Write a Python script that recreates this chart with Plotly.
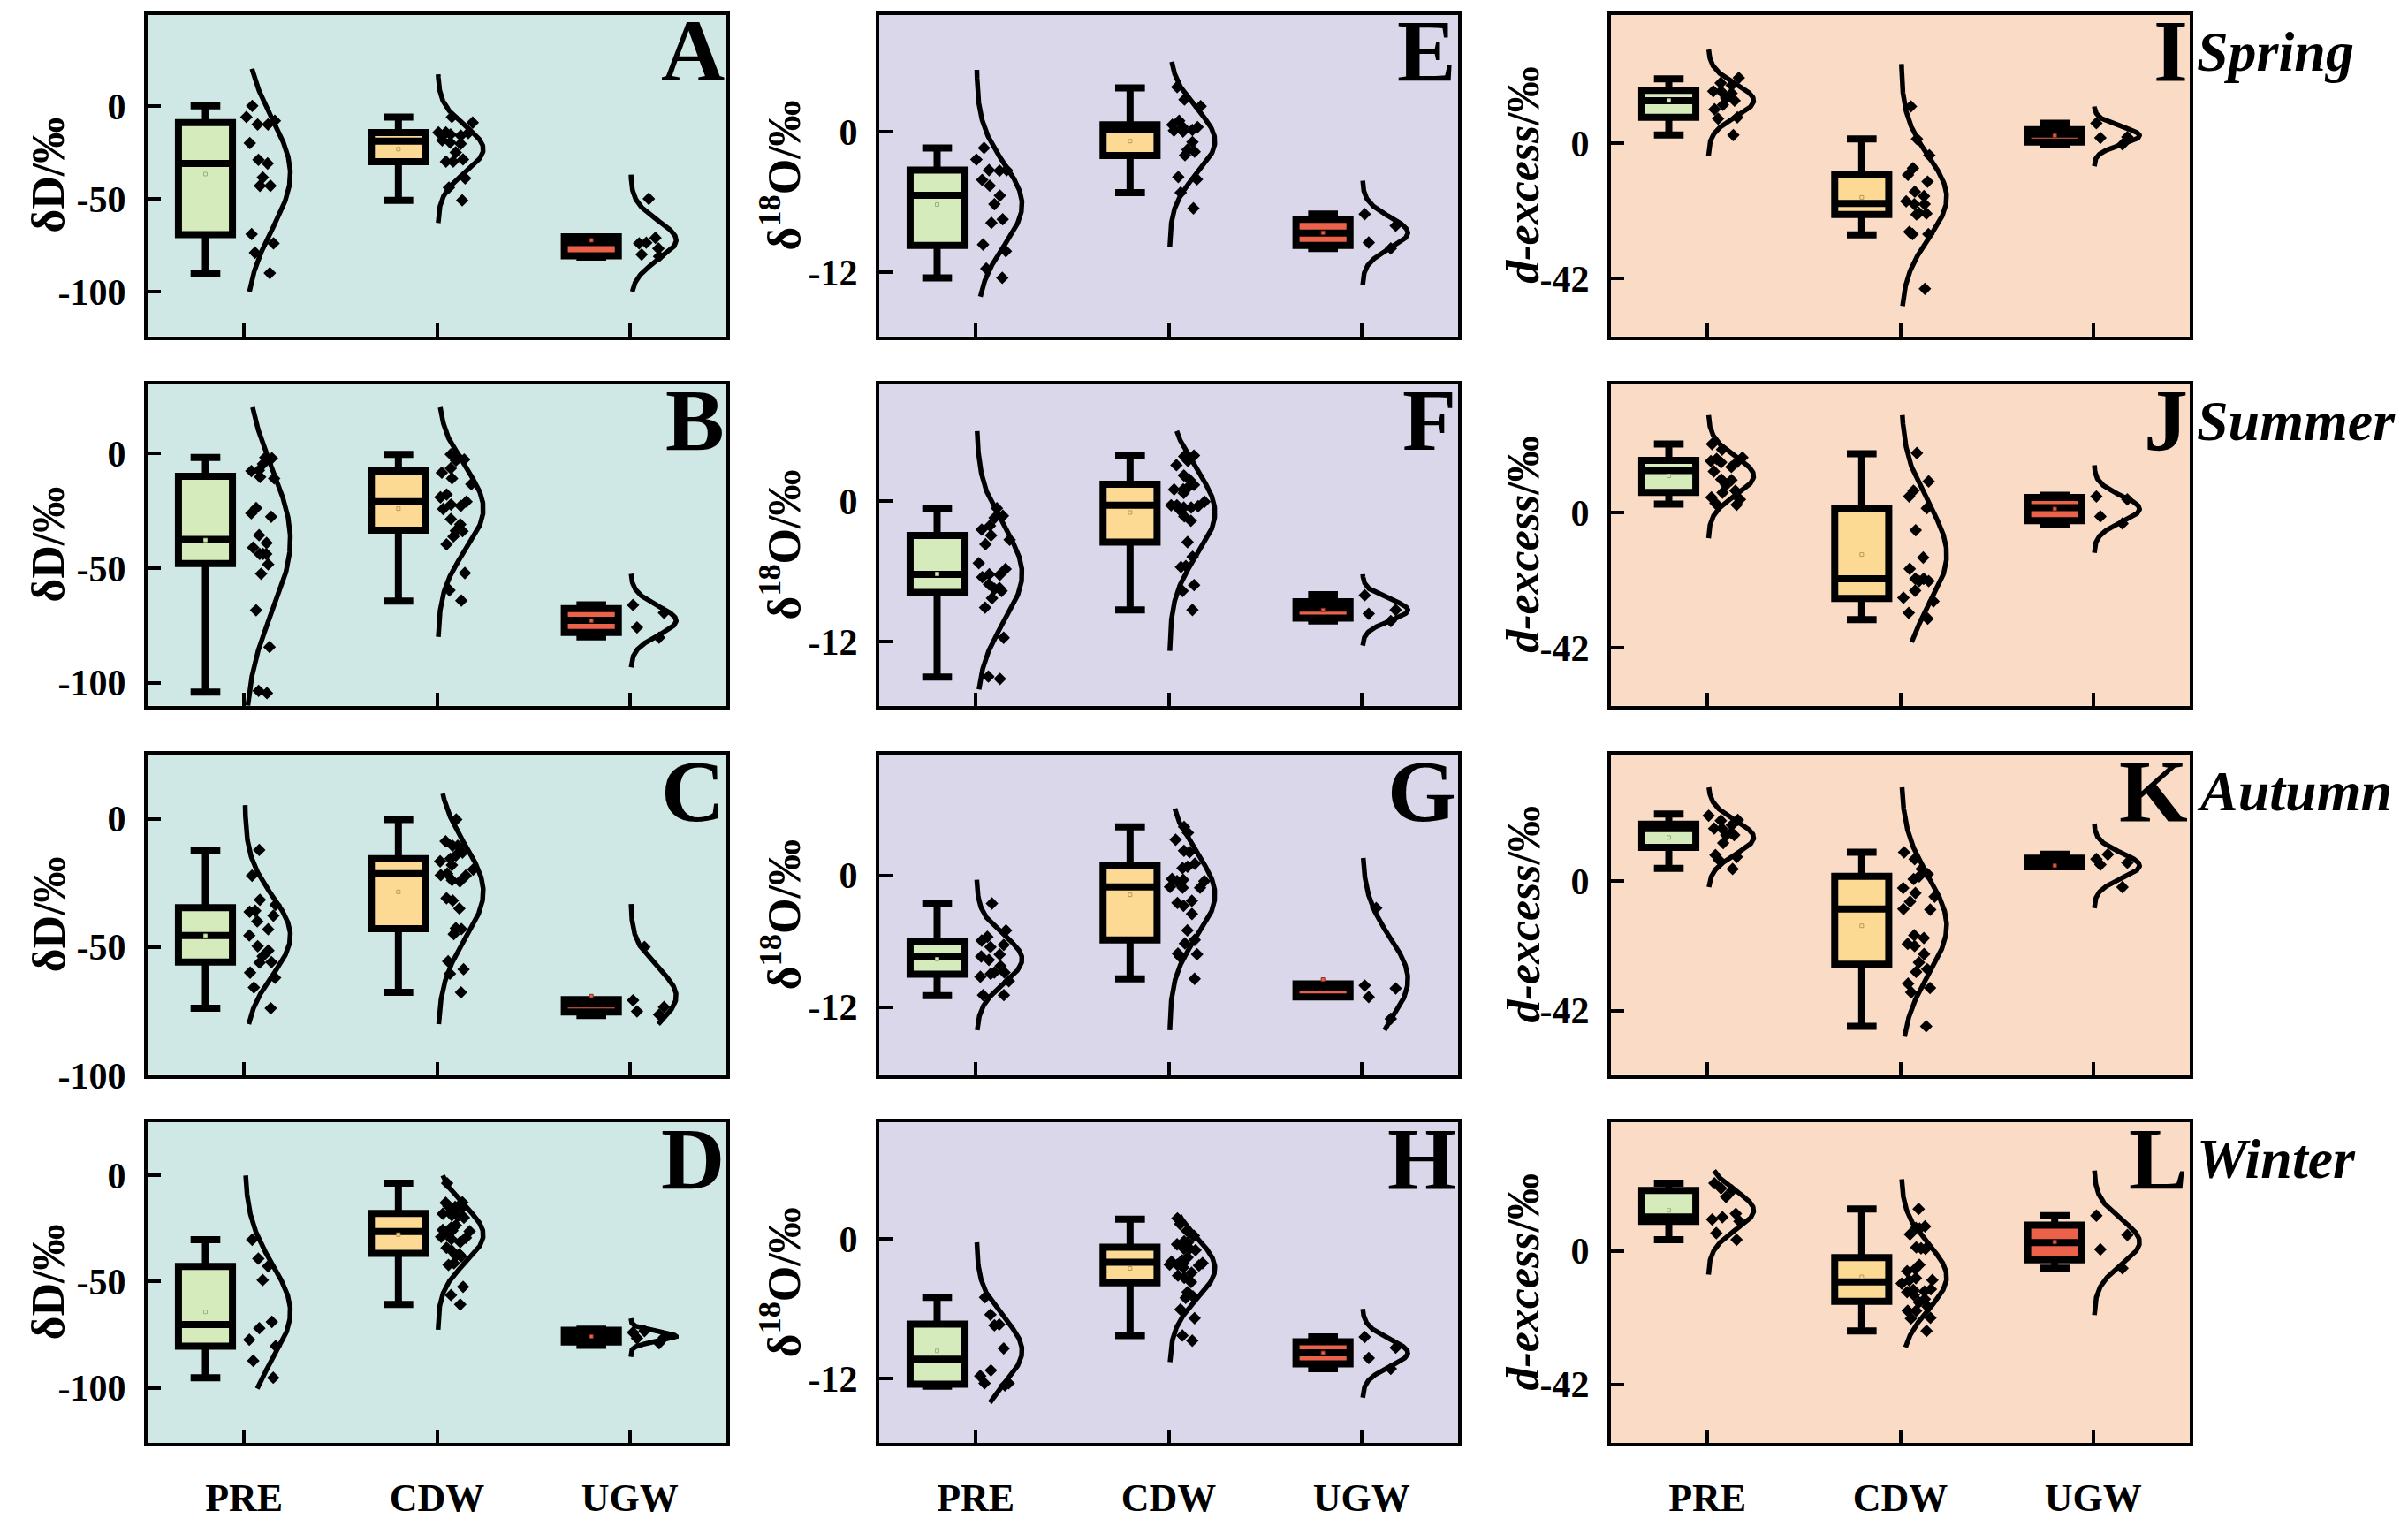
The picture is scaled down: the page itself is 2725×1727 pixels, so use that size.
import numpy as np
import plotly.graph_objects as go

categories = ["PRE", "CDW", "UGW"]
panels = ["A", "B", "C", "D", "E", "F", "G", "H", "I", "J", "K", "L"]
seasons = ["Spring", "Summer", "Autumn", "Winter"]

# ---------------- Panel A (δD, Spring)
A_PRE = [0, -6, -8, -10, -10, -20, -29, -31, -38.5, -43, -43, -69, -74, -79, -90]
A_CDW = [-6, -9, -14.3, -14.3, -14.6, -15.4, -16, -18.5, -19.7, -20.4, -25, -28.8, -30, -30, -39, -44, -50.8]
A_UGW = [-50, -71, -73.6, -74, -76.7, -80, -81]
A_q1 = [-69.3, -30.0, -80.7]
A_med = [-31.0, -19.0, -73.5]
A_q3 = [-9.0, -14.3, -70.4]
A_lo = [-90.0, -50.8, -81.4]
A_hi = [0.0, -6.0, -70.4]
A_curve_lo = [-100, -63, -100]
A_curve_hi = [20, 17, -37]

# ---------------- Panel B (δD, Summer)
B_PRE = [-1.9, -2.2, -4.7, -7.5, -7.8, -10.4, -11, -23.9, -26.2, -27.7, -35.7, -39.1, -41.1, -43.9, -43.9,
         -43.9, -48.4, -52.5, -68.4, -84.4, -103.5, -104.5]
B_CDW = [-0.5, -1.9, -2.8, -3.2, -6.6, -8.5, -11, -13.5, -18, -19.2, -21.1, -22.4, -23, -24.3, -28.7, -31,
         -33.8, -34, -36.3, -39.7, -52.2, -59.7, -64.2]
B_UGW = [-66.1, -69.5, -75.9, -80.3]
B_q1 = [-48.1, -33.5, -78.1]
B_med = [-37.6, -21.1, -72.8]
B_q3 = [-10.1, -7.8, -67.7]
B_lo = [-104.0, -64.4, -80.0]
B_hi = [-1.9, -0.5, -66.0]
B_curve_lo = [-110, -80, -93.3]
B_curve_hi = [20, 20, -52.5]

# ---------------- Panel C (δD, Autumn)
C_PRE = [-12.2, -22.2, -31.6, -33.6, -35.9, -36.3, -37.8, -40, -43.1, -45.5, -49.7, -51.4, -53.6, -55.9,
         -56.1, -60, -62, -65.8, -73.9]
C_CDW = [-0.3, -8.8, -10.5, -10.5, -13.2, -14.3, -15.6, -16.6, -18.1, -19.8, -21.4, -22, -22.2, -24, -24.5,
         -31, -31.9, -35, -42.7, -43, -45, -55.6, -58.7, -60.4, -67.7]
C_UGW = [-50, -70.8, -73.4, -75.1, -76.4]
C_q1 = [-55.9, -42.9, -75.3]
C_med = [-45.5, -21.4, -72.2]
C_q3 = [-34.7, -15.6, -70.5]
C_lo = [-73.9, -67.7, -76.7]
C_hi = [-12.4, -0.3, -70.5]
C_curve_lo = [-80.1, -80.1, -80.1]
C_curve_hi = [5.3, 9.8, -33.3]

# ---------------- Panel D (δD, Winter)
D_PRE = [-30.3, -39.2, -42.8, -49.3, -69, -72, -77.4, -80.4, -87.3, -95.3]
D_CDW = [-3.7, -12.7, -12.9, -14.5, -14.9, -15.2, -17.2, -18.1, -18.1, -18.8, -19.2, -19.9, -23.5, -24.6,
         -25.7, -26, -26.3, -26.4, -29, -29.4, -30, -31.4, -34.1, -35.5, -37.2, -37.9, -38.2, -41.4, -42.2,
         -52.5, -56.4, -60.8]
D_UGW = [-73.3, -74, -76.3, -76.7, -79]
D_q1 = [-80.4, -36.8, -78.5]
D_med = [-70.2, -26.4, -75.6]
D_q3 = [-42.9, -17.9, -73.0]
D_lo = [-95.3, -60.8, -80.0]
D_hi = [-30.3, -3.7, -72.4]
D_curve_lo = [-100.4, -72.7, -85.5]
D_curve_hi = [0, 0, -67.3]

# ---------------- Panel E (δ18O, Spring)
E_PRE = [-1.39, -2.38, -3.28, -3.28, -3.33, -4.12, -4.62, -5.46, -6.2, -7.49, -7.79, -9.65, -10.22, -11.71, -12.5]
E_CDW = [3.82, 2.75, 2.18, 0.94, 0.6, 0.4, 0.4, 0.15, 0.1, 0.02, -0.89, -1.54, -1.71, -2.01, -3.87, -4.07,
         -5.21, -6.55]
E_UGW = [-7.05, -8.04, -9.48, -9.98]
E_q1 = [-9.73, -2.03, -9.73]
E_med = [-5.43, 0.15, -8.66]
E_q3 = [-3.28, 0.6, -7.49]
E_lo = [-12.5, -5.21, -9.98]
E_hi = [-1.39, 3.75, -7.05]
E_curve_lo = [-14.1, -9.83, -13.1]
E_curve_hi = [5.3, 5.98, -4.19]

# ---------------- Panel F (δ18O, Summer)
F_PRE = [-0.6, -1.25, -1.43, -2.1, -2.43, -2.93, -3.3, -3.68, -5.3, -5.8, -6.25, -6.3, -6.5, -7.1, -7.43,
         -7.5, -7.68, -8.3, -9.1, -11.68, -15.0, -15.2]
F_CDW = [3.9, 3.83, 3.45, 3.08, 2.2, 1.83, 1.4, 1.15, 1.0, 1.0, 0.7, -0.05, -0.35, -0.35, -0.43, -0.55, -0.55,
         -0.73, -1.3, -1.68, -3.5, -4.75, -5.55, -5.63, -7.18, -7.68, -9.3]
F_UGW = [-8.05, -9.3, -9.63, -10.25]
F_q1 = [-7.8, -3.5, -10.0]
F_med = [-6.25, -0.35, -9.15]
F_q3 = [-2.93, 1.45, -8.6]
F_lo = [-15.05, -9.3, -10.25]
F_hi = [-0.6, 3.9, -8.0]
F_curve_lo = [-16.1, -12.8, -12.35]
F_curve_hi = [6.0, 6.0, -6.25]

# ---------------- Panel G (δ18O, Autumn)
G_PRE = [-2.56, -5.01, -5.59, -5.94, -6.33, -6.52, -7.2, -7.39, -7.7, -8.26, -8.84, -8.84, -8.97, -9.23,
         -9.63, -10.9, -10.9]
G_CDW = [4.41, 3.88, 3.25, 2.24, 2.11, 1.06, 0.79, 0.66, -0.32, -0.4, -0.53, -0.53, -1.06, -1.13, -1.13,
         -2.32, -2.51, -2.77, -3.51, -5.01, -5.88, -6.2, -7.12, -7.18, -7.39, -9.42]
G_UGW = [-2.98, -10.03, -10.29, -11.08, -13.06]
G_q1 = [-9.0, -5.88, -11.08]
G_med = [-7.39, -1.06, -10.2]
G_q3 = [-6.07, 0.87, -9.89]
G_lo = [-10.95, -9.42, -11.08]
G_hi = [-2.56, 4.41, -9.89]
G_curve_lo = [-14.1, -14.1, -14.1]
G_curve_hi = [-0.4, 6.07, 1.58]

# ---------------- Panel H (δ18O, Winter)
H_PRE = [-5.01, -6.5, -7.34, -7.42, -9.4, -11.27, -11.76, -12.38, -12.38, -12.56]
H_CDW = [1.76, 1.27, 0.69, 0.27, -0.22, -0.3, -0.47, -0.84, -0.84, -0.97, -1.59, -1.84, -1.96, -2.08, -2.08,
         -2.21, -2.21, -2.28, -2.46, -2.9, -3.15, -3.33, -3.7, -4.57, -4.94, -5.06, -6.05, -6.8, -8.29, -8.73]
H_UGW = [-8.41, -9.33, -10.22, -11.14]
H_q1 = [-12.46, -3.77, -10.72]
H_med = [-10.32, -2.01, -9.78]
H_q3 = [-7.3, -0.72, -8.83]
H_lo = [-12.63, -8.29, -11.14]
H_hi = [-5.01, 1.69, -8.41]
H_curve_lo = [-14.04, -10.57, -13.62]
H_curve_hi = [-0.3, 2.01, -6.0]

# ---------------- Panel I (d-excess, Spring)
I_PRE = [20.4, 18.8, 18.1, 16.2, 16.2, 15.6, 14.1, 13.3, 12.0, 10.6, 8.1, 7.7, 2.6]
I_CDW = [11.5, 1.36, -3.7, -7.7, -9.8, -11.9, -15, -16.4, -18, -18.9, -18.9, -21.6, -21.8, -22.1, -27.5,
         -28.2, -28.2, -45.2]
I_UGW = [6.3, 2.0, 1.7, -0.3]
I_q1 = [8.1, -22.1, 0.45]
I_med = [13.3, -18.7, 2.9]
I_q3 = [16.5, -9.8, 4.3]
I_lo = [2.6, -28.4, -0.3]
I_hi = [20.1, 1.36, 6.3]
I_curve_lo = [-3.9, -50.6, -7.1]
I_curve_hi = [29.2, 24.7, 11.5]

# ---------------- Panel J (d-excess, Summer)
J_PRE = [21.4, 19.7, 17.2, 16.8, 16.1, 15.9, 15.7, 14.3, 12.9, 10.4, 10.2, 8.7, 6.9, 6.3, 4.8, 4.2, 3.0, 2.5]
J_CDW = [18.6, 9.8, 6.9, 5.1, 1.45, -5.4, -13.9, -17.4, -20.5, -20.5, -21.2, -21.2, -24.2, -26.4, -27.5,
         -31.1, -32.9]
J_UGW = [5.1, 4.2, -1.1, -3.3]
J_q1 = [6.4, -26.6, -2.4]
J_med = [13.2, -20.5, 1.6]
J_q3 = [16.3, 1.36, 4.8]
J_lo = [2.7, -33.2, -3.6]
J_hi = [21.4, 18.4, 5.5]
J_curve_lo = [-7.9, -40.2, -12.4]
J_curve_hi = [30.4, 30.4, 14.8]

# ---------------- Panel K (d-excess, Autumn)
K_PRE = [21.2, 19.8, 19.6, 18.1, 17.0, 17.0, 15.6, 14.9, 14.9, 12.3, 8.4, 7.8, 6.9, 3.9]
K_CDW = [9.3, 7.1, 3.9, 2.2, 1.5, 0.6, -2.3, -3.9, -5.1, -6.7, -9.1, -9.3, -17.6, -18.5, -20.4, -21.1, -23.7,
         -26.4, -28.6, -29.5, -33.3, -34.7, -36.1, -47.1]
K_UGW = [8.6, 7.1, 5.9, 5.3, -2.0]
K_q1 = [10.9, -27.0, 4.6]
K_med = [17.0, -9.1, 5.9]
K_q3 = [18.4, 1.5, 7.4]
K_lo = [4.1, -47.1, 4.6]
K_hi = [21.7, 9.3, 8.7]
K_curve_lo = [-2.0, -50.5, -8.8]
K_curve_hi = [30.4, 30.4, 18.6]

# ---------------- Panel L (d-excess, Winter)
L_PRE = [21.3, 19.7, 19.0, 17.0, 11.7, 10.6, 9.9, 9.3, 5.6, 3.5]
L_CDW = [13.2, 7.7, 7.2, 7.0, 5.2, 1.1, 0.8, 0.6, -4.4, -5.7, -6.4, -8.6, -9.2, -9.3, -10.3, -12.1, -12.3,
         -12.8, -13.0, -13.9, -15.2, -16.2, -17.5, -18.9, -18.9, -21.1, -21.3, -25.2]
L_UGW = [11.1, 5.0, 0.45, -5.5]
L_q1 = [9.3, -15.9, -2.8]
L_med = [10.7, -9.8, 2.6]
L_q3 = [19.0, -2.1, 8.1]
L_lo = [3.5, -25.2, -5.5]
L_hi = [21.3, 13.2, 11.1]
L_curve_lo = [-7.5, -30.4, -20.2]
L_curve_hi = [25.3, 22.6, 25.3]

# axis settings per panel
y_ranges = [[-124, 49], [-110, 30], [-100, 25], [-126, 25],
            [-17.5, 10], [-17.5, 10], [-18.2, 11], [-17.5, 10],
            [-60, 40], [-60, 40], [-63, 41], [-60.5, 40.5]]
y_tickvals_by_col = [[0, -50, -100], [0, -12], [0, -42]]
y_ticktext_by_col = [["0", "-50", "-100"], ["0", "-12"], ["0", "-42"]]
y_titles = ["δD/‰", "δ<sup>18</sup>O/‰", "<i>d-excess</i>/‰"]

# ---------------- styles / layout
W, H = 2725, 1727
col_px = [(167, 822), (995, 1650), (1823, 2478)]
row_px = [(17, 386), (441, 810), (866, 1234), (1288, 1656)]
bg_colors = ["#CFE8E6", "#DAD7EB", "#F9DBC6"]
box_colors = ["#D6EBBC", "#FDDA94", "#EC6149"]
mean_colors = ["#9DB07F", "#B89A55", "#8A3020"]
FONT = "Liberation Serif"

G = globals()
fig = go.Figure()
shapes, annotations = [], []
layout = {}

for idx, p in enumerate(panels):
    col, row = idx // 4, idx % 4
    n = idx + 1
    xa = "x" if n == 1 else f"x{n}"
    ya = "y" if n == 1 else f"y{n}"
    pts = [G[f"{p}_{c}"] for c in categories]
    q1, med, q3 = G[f"{p}_q1"], G[f"{p}_med"], G[f"{p}_q3"]
    lo, hi = G[f"{p}_lo"], G[f"{p}_hi"]
    clo, chi = G[f"{p}_curve_lo"], G[f"{p}_curve_hi"]

    for g in range(3):
        pos = g - 0.2
        vals = np.array(pts[g], dtype=float)
        # box (statistics)
        fig.add_trace(go.Box(
            x=[pos], q1=[q1[g]], median=[med[g]], q3=[q3[g]],
            lowerfence=[lo[g]], upperfence=[hi[g]],
            width=0.28, whiskerwidth=0.55, fillcolor=box_colors[g],
            line=dict(color="black", width=8), boxpoints=False,
            xaxis=xa, yaxis=ya, showlegend=False, hoverinfo="skip"))
        # jittered sample points on the right side of the box
        fig.add_trace(go.Box(
            y=vals, x0=pos, width=0.3, boxpoints="all", jitter=0.66, pointpos=2.0,
            fillcolor="rgba(0,0,0,0)", line=dict(color="rgba(0,0,0,0)", width=0),
            whiskerwidth=0,
            marker=dict(symbol="diamond", size=11, color="black"),
            xaxis=xa, yaxis=ya, showlegend=False, hoverinfo="skip"))
        # mean marker
        fig.add_trace(go.Scatter(
            x=[pos], y=[vals.mean()], mode="markers",
            marker=dict(symbol="square", size=4, color=box_colors[g],
                        line=dict(color=mean_colors[g], width=1)),
            xaxis=xa, yaxis=ya, showlegend=False, hoverinfo="skip"))
        # normal distribution curve from the sample mean / sd
        m, s = vals.mean(), vals.std(ddof=1)
        yy = np.linspace(clo[g], chi[g], 300)
        xx = g + 0.005 + 0.235 * np.exp(-0.5 * ((yy - m) / s) ** 2)
        fig.add_trace(go.Scatter(
            x=xx, y=yy, mode="lines", line=dict(color="black", width=5.5),
            xaxis=xa, yaxis=ya, showlegend=False, hoverinfo="skip"))

    x0p, x1p = col_px[col]
    y0p, y1p = row_px[row]
    xdom = [x0p / W, x1p / W]
    ydom = [1 - y1p / H, 1 - y0p / H]
    bottom = row == 3
    layout["xaxis" if n == 1 else f"xaxis{n}"] = dict(
        domain=xdom, anchor=ya, range=[-0.5, 2.5], tickvals=[0, 1, 2],
        ticktext=categories if bottom else [" ", " ", " "],
        ticks="inside", ticklen=15, tickwidth=3.5, tickcolor="black",
        showline=True, mirror=True, linewidth=4, linecolor="black",
        showgrid=False, zeroline=False, ticklabelstandoff=20,
        tickfont=dict(family=FONT, size=44, color="black", weight="bold"))
    layout["yaxis" if n == 1 else f"yaxis{n}"] = dict(
        domain=ydom, anchor=xa, range=y_ranges[idx],
        tickvals=y_tickvals_by_col[col], ticktext=y_ticktext_by_col[col],
        ticks="inside", ticklen=15, tickwidth=3.5, tickcolor="black",
        showline=True, mirror=True, linewidth=4, linecolor="black",
        showgrid=False, zeroline=False, ticklabelstandoff=12,
        tickfont=dict(family=FONT, size=42, color="black", weight="bold"))

    shapes.append(dict(type="rect", xref=f"{xa} domain", yref=f"{ya} domain",
                       x0=0, x1=1, y0=0, y1=1, fillcolor=bg_colors[col],
                       line=dict(width=0), layer="below"))
    # panel letter
    annotations.append(dict(text=p, xref=f"{xa} domain", yref=f"{ya} domain",
                            x=1.0, y=1.045, xanchor="right", yanchor="top", showarrow=False,
                            font=dict(family=FONT, size=100, color="black", weight="bold")))
    # y-axis title
    title_x = [55, 884, 1724][col]
    annotations.append(dict(text=y_titles[col], xref="paper", yref="paper",
                            x=title_x / W, y=1 - (y0p + y1p) / 2 / H, textangle=-90,
                            xanchor="center", yanchor="middle", showarrow=False,
                            font=dict(family=FONT, size=52, color="black", weight="bold")))
    if col == 2:
        annotations.append(dict(text=seasons[row], xref="paper", yref="paper",
                                x=2484 / W, y=1 - (y0p + 42) / H, xanchor="left", yanchor="middle",
                                showarrow=False,
                                font=dict(family=FONT, size=64, color="black",
                                          weight="bold", style="italic")))

fig.update_layout(**layout)
fig.update_layout(width=W, height=H, margin=dict(l=0, r=0, t=0, b=0),
                  paper_bgcolor="white", plot_bgcolor="rgba(0,0,0,0)",
                  boxmode="overlay", shapes=shapes, annotations=annotations,
                  showlegend=False)

fig.write_html("out.html", config={"displayModeBar": False},
               post_script="document.body.style.margin='0px';document.body.style.overflow='hidden';")
